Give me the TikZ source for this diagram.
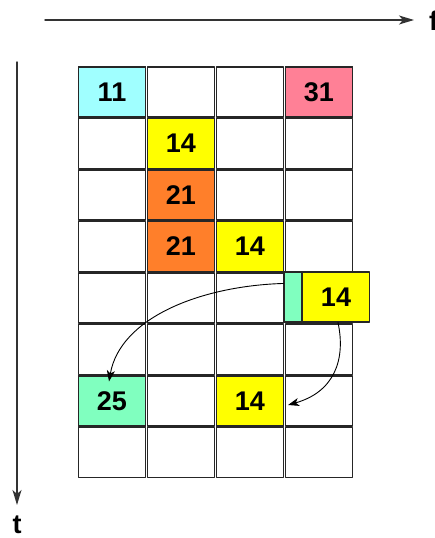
\documentclass[tikz,border=0pt]{standalone}
\usepackage{fontspec}
\setmainfont{Liberation Sans}
\usetikzlibrary{arrows.meta}
\definecolor{cellcyan}{HTML}{A0FFFF}
\definecolor{cellpink}{HTML}{FF8096}
\definecolor{cellyellow}{HTML}{FFFF00}
\definecolor{cellorange}{HTML}{FF7F2A}
\definecolor{cellgreen}{HTML}{80FFBF}
\tikzset{
  cell/.style={draw=black!85, line width=1.1pt, fill=white, minimum width=67pt,
    minimum height=50pt, inner sep=0pt, font=\fontsize{27}{27}\selectfont\bfseries},
  axislabel/.style={font=\fontsize{27}{27}\selectfont\bfseries, inner sep=0pt},
  move/.style={line width=0.9pt, -{Stealth[length=11pt,width=8pt,inset=3pt]}},
}
\begin{document}
\begin{tikzpicture}[x=1pt, y=-1pt, line cap=round, line join=round]
    \useasboundingbox (0,0) rectangle (435,538);
    % axes
    \coordinate (fa) at (45,20);
    \coordinate (fb) at (414,20);
    \coordinate (ta) at (17,62);
    \coordinate (tb) at (17,505);
    \draw[line width=1.4pt,draw=black!80,-{Stealth[length=15pt,width=9pt,inset=4pt]}] (fa) -- (fb);
    \draw[line width=1.4pt,draw=black!80,-{Stealth[length=15pt,width=9pt,inset=4pt]}] (ta) -- (tb);
    \node[axislabel, anchor=west] (f) at (429,21) {f};
    \node[axislabel] (t) at (17,525) {t};
    % grid of cells
    \foreach \r in {1,...,8}
      \foreach \c in {1,...,4}
        \node[cell] (c\r\c) at ({112+69*(\c-1)},{92+51.5*(\r-1)}) {};
    % filled cells
    \node[cell, fill=cellcyan] (n11) at (c11) {11};
    \node[cell, fill=cellpink] (n14) at (c14) {31};
    \node[cell, fill=cellyellow] (n22) at (c22) {14};
    \node[cell, fill=cellorange] (n32) at (c32) {21};
    \node[cell, fill=cellorange] (n42) at (c42) {21};
    \node[cell, fill=cellyellow] (n43) at (c43) {14};
    \node[cell, fill=cellgreen, minimum width=18pt] (strip) at (293,297) {};
    \node[cell, fill=cellyellow] (shift) at (336,297) {14};
    \node[cell, fill=cellgreen] (n71) at (c71) {25};
    \node[cell, fill=cellyellow] (n73) at (c73) {14};
    % moves
    \draw[move] ([yshift=-12pt]strip.north west) .. controls (200,286) and (120,318) .. ([xshift=-3pt,yshift=-6pt]n71.north);
    \draw[move] ([xshift=2pt]shift.south) .. controls (346,360) and (334,392) .. ([xshift=4pt,yshift=-4pt]n73.east);
\end{tikzpicture}
\end{document}
